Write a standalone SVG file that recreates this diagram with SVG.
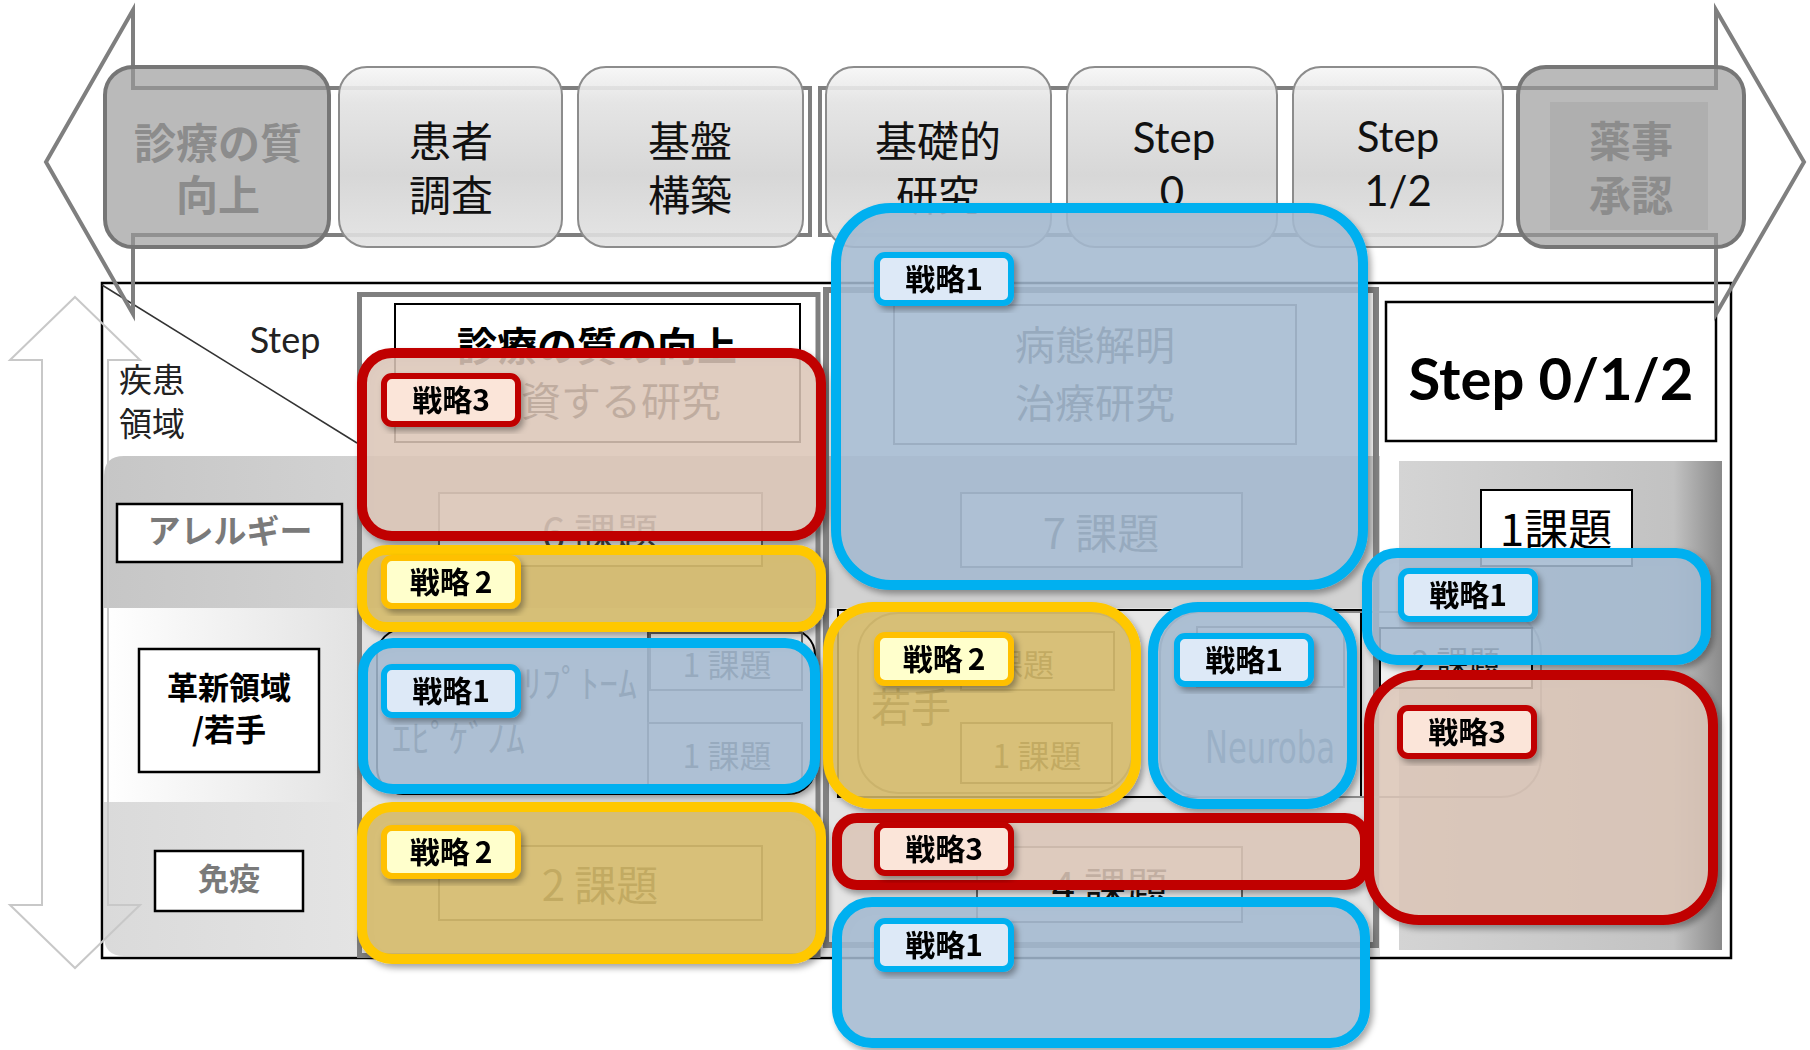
<svg xmlns="http://www.w3.org/2000/svg" width="1810" height="1050" viewBox="0 0 1810 1050">
<defs>
<style>
.jp{font-family:"Noto Sans CJK JP","Noto Sans",sans-serif}
.lat{font-family:Lato,"Noto Sans","Noto Sans CJK JP",sans-serif}
.ob{fill:#a8bed5;fill-opacity:.82;stroke:#00b0f0;stroke-width:10}
.or{fill:#e0cbbc;fill-opacity:.82;stroke:#c00000;stroke-width:10}
.oy{fill:#dbbe6a;fill-opacity:.82;stroke:#ffc800;stroke-width:10}
.lb{fill:#dde9f7;stroke:#00b0f0;stroke-width:6}
.ly{fill:#ffffcc;stroke:#ffc000;stroke-width:6}
.lr{fill:#fbe5d9;stroke:#c00000;stroke-width:6}
.lt{font-family:"Noto Sans CJK JP",sans-serif;font-weight:700;font-size:30px;fill:#000;text-anchor:middle}
.tb{fill:url(#gBox);fill-opacity:.9;stroke:#8c8c8c;stroke-width:2}
.td{fill:#9a9a9a;fill-opacity:.68;stroke:#767676;stroke-width:4}
.tt{font-family:"Noto Sans CJK JP",sans-serif;font-size:42px;text-anchor:middle;fill:#111}
.tg{font-family:"Noto Sans CJK JP",sans-serif;font-size:42px;font-weight:700;text-anchor:middle;fill:#8c8c8c}
.ts{font-family:Lato,"Noto Sans",sans-serif;font-size:42px;text-anchor:middle;fill:#111}
.kb{fill:#f0f0f0;stroke:#666;stroke-width:2}
.kt{font-family:"Noto Sans CJK JP",sans-serif;text-anchor:middle;fill:#444}
.kd{font-family:"Noto Sans CJK JP",sans-serif;text-anchor:middle;fill:#111}
.lab{fill:#fff;stroke:#000;stroke-width:2.5}
</style>
<linearGradient id="gBox" x1="0" y1="0" x2="0" y2="1">
<stop offset="0" stop-color="#f6f6f6"/><stop offset=".2" stop-color="#e2e2e2"/><stop offset=".6" stop-color="#d3d3d3"/><stop offset="1" stop-color="#e2e2e2"/>
</linearGradient>
<linearGradient id="gAl" gradientUnits="userSpaceOnUse" x1="104" y1="0" x2="360" y2="0">
<stop offset="0" stop-color="#c6c6c6"/><stop offset="1" stop-color="#d2d2d2"/>
</linearGradient>
<linearGradient id="gIn" gradientUnits="userSpaceOnUse" x1="104" y1="0" x2="360" y2="0">
<stop offset="0" stop-color="#ffffff"/><stop offset="1" stop-color="#e2e2e2"/>
</linearGradient>
<linearGradient id="gIm" gradientUnits="userSpaceOnUse" x1="104" y1="0" x2="360" y2="0">
<stop offset="0" stop-color="#dadada"/><stop offset="1" stop-color="#e4e4e4"/>
</linearGradient>
<linearGradient id="gRc" x1="0" y1="0" x2="1" y2="0">
<stop offset="0" stop-color="#d4d4d4"/><stop offset=".85" stop-color="#c2c2c2"/><stop offset="1" stop-color="#8a8a8a"/>
</linearGradient>
<filter id="sh" x="-10%" y="-10%" width="125%" height="130%">
<feDropShadow dx="3" dy="4" stdDeviation="3" flood-color="#000" flood-opacity="0.35"/>
</filter>
</defs>

<rect width="1810" height="1050" fill="#fff"/>

<g id="table">
<rect x="102" y="283" width="1629" height="675" fill="#fff" stroke="#000" stroke-width="2.5"/>
<path d="M124,456 H1380 V608 H104 V476 Q104,456 124,456 Z" fill="url(#gAl)"/>
<rect x="104" y="608" width="1276" height="194" fill="url(#gIn)"/>
<path d="M104,802 H1380 V956 H124 Q104,956 104,936 Z" fill="url(#gIm)"/>
<rect x="1399" y="461" width="323" height="489" fill="url(#gRc)"/>
<line x1="102" y1="285" x2="357" y2="443" stroke="#333" stroke-width="1.5"/>
<text class="lat" x="285" y="353" font-size="36" text-anchor="middle" fill="#222">Step</text>
<text class="jp" font-size="33" fill="#222"><tspan x="119" y="392">疾患</tspan><tspan x="119" y="436">領域</tspan></text>
</g>

<g id="row-allergy">
<rect class="lab" x="117" y="504" width="225" height="58"/>
<text class="jp" x="230" y="543" font-size="33" font-weight="700" text-anchor="middle" fill="#7a7a7a">アレルギー</text>
</g>
<g id="row-innovation">
<rect class="lab" x="139" y="649" width="180" height="123"/>
<text class="jp" font-size="31" font-weight="700" text-anchor="middle" fill="#000"><tspan x="229" y="699">革新領域</tspan><tspan x="229" y="741">/若手</tspan></text>
</g>
<g id="row-immune">
<rect class="lab" x="155" y="851" width="148" height="60"/>
<text class="jp" x="229" y="890" font-size="31" font-weight="700" text-anchor="middle" fill="#7a7a7a">免疫</text>
</g>

<g id="col-quality">
<rect x="359.5" y="294.5" width="458.5" height="661" fill="none" stroke="#7f7f7f" stroke-width="5"/>
<rect x="395" y="304" width="405" height="138" fill="#fff" stroke="#000" stroke-width="2"/>
<text class="jp" x="597" y="361" font-size="40" font-weight="700" text-anchor="middle" fill="#000">診療の質の向上</text>
<text class="jp" x="521" y="416" font-size="40" fill="#000">資する研究</text>
<rect class="kb" x="439" y="493" width="323" height="73"/>
<text class="kt" x="600" y="549" font-size="42">6 課題</text>
<rect x="377" y="629" width="438" height="165" rx="26" fill="#e9e9e9" stroke="#000" stroke-width="2"/>
<line x1="648" y1="629" x2="648" y2="794" stroke="#555" stroke-width="2"/>
<rect class="kb" x="650" y="633" width="152" height="57"/>
<text class="kt" x="727" y="677" font-size="32">1 課題</text>
<rect class="kb" x="648" y="723" width="154" height="62"/>
<text class="kt" x="727" y="768" font-size="32">1 課題</text>
<text class="jp" font-size="38" fill="#444"><tspan x="523" y="697">ﾘﾌﾟﾄｰﾑ</tspan><tspan x="392" y="752">ｴﾋﾟｹﾞﾉﾑ</tspan></text>
<rect class="kb" x="439" y="846" width="323" height="74"/>
<text class="kt" x="600" y="901" font-size="42">2 課題</text>
</g>

<g id="col-basic">
<rect x="826" y="290" width="550" height="655" fill="none" stroke="#808080" stroke-width="6"/>
<rect x="894" y="305" width="402" height="139" fill="#fff" stroke="#666" stroke-width="2"/>
<text class="kt" font-size="40"><tspan x="1095" y="360">病態解明</tspan><tspan x="1095" y="418">治療研究</tspan></text>
<rect class="kb" x="961" y="493" width="281" height="74"/>
<text class="kt" x="1101" y="549" font-size="42">7 課題</text>
<rect x="838" y="610" width="523" height="187" fill="#e6e6e6" stroke="#000" stroke-width="2"/>
<rect x="858" y="613" width="274" height="180" rx="40" fill="none" stroke="#888" stroke-width="2"/>
<rect class="kb" x="961" y="632" width="153" height="58"/>
<text class="kt" x="1023" y="676" font-size="31" text-anchor="start">課題</text>
<text class="jp" x="871" y="722" font-size="40" fill="#444">若手</text>
<rect class="kb" x="961" y="723" width="151" height="60"/>
<text class="kt" x="1037" y="768" font-size="32">1 課題</text>
<rect x="1160" y="612" width="381" height="185" rx="40" fill="none" stroke="#888" stroke-width="2"/>
<rect class="kb" x="1197" y="627" width="147" height="60"/>
<rect x="1380" y="628" width="152" height="60" fill="#f0f0f0" stroke="#000" stroke-width="2"/>
<text class="kd" x="1456" y="674" font-size="32">2 課題</text>
<text x="1205" y="763" font-family="'DejaVu Sans Condensed','Liberation Sans',sans-serif" font-size="44" fill="#5a6e84" textLength="130" lengthAdjust="spacingAndGlyphs">Neuroba</text>
<rect class="kb" x="977" y="847" width="265" height="75" stroke="#555"/>
<text class="kd" x="1110" y="903" font-size="42">4 課題</text>
</g>

<g id="col-step012">
<rect x="1386" y="302" width="330" height="139" fill="#fff" stroke="#000" stroke-width="2.5"/>
<text class="lat" x="1551" y="400" font-size="58" font-weight="700" text-anchor="middle" fill="#000">Step 0/1/2</text>
<rect x="1481" y="490" width="151" height="76" fill="#fff" stroke="#000" stroke-width="2"/>
<text class="jp" x="1556" y="546" font-size="44" text-anchor="middle" fill="#000">1課題</text>
</g>

<g id="arrows">
<polygon points="810,88 133,88 133,10 46,162 133,314 133,235 810,235" fill="none" stroke="#7f7f7f" stroke-width="4"/>
<polygon points="820,88 1716,88 1716,10 1804,162 1716,314 1716,235 820,235" fill="none" stroke="#7f7f7f" stroke-width="4"/>
<polygon points="75,297 140,360 108,360 108,905 140,905 75,968 10,905 42,905 42,360 10,360" fill="none" stroke="#c8c8c8" stroke-width="2"/>
</g>

<g id="step-quality">
<rect class="td" x="105" y="67" width="224" height="180" rx="28"/>
<text class="tg"><tspan x="218" y="159">診療の質</tspan><tspan x="218" y="211">向上</tspan></text>
</g>
<g id="step-survey">
<rect class="tb" x="339" y="67" width="223" height="180" rx="28"/>
<text class="tt"><tspan x="451" y="157">患者</tspan><tspan x="451" y="211">調査</tspan></text>
</g>
<g id="step-infra">
<rect class="tb" x="578" y="67" width="225" height="180" rx="28"/>
<text class="tt"><tspan x="690" y="157">基盤</tspan><tspan x="690" y="211">構築</tspan></text>
</g>
<g id="step-basic">
<rect class="tb" x="826" y="67" width="225" height="180" rx="28"/>
<text class="tt"><tspan x="938" y="157">基礎的</tspan><tspan x="938" y="211">研究</tspan></text>
</g>
<g id="step-0">
<rect class="tb" x="1067" y="67" width="210" height="180" rx="28"/>
<text class="ts"><tspan x="1174" y="153">Step</tspan><tspan x="1172" y="207">0</tspan></text>
</g>
<g id="step-12">
<rect class="tb" x="1293" y="67" width="210" height="180" rx="28"/>
<text class="ts"><tspan x="1398" y="152">Step</tspan><tspan x="1398" y="206">1/2</tspan></text>
</g>
<g id="step-approval">
<rect class="td" x="1518" y="67" width="226" height="180" rx="28"/>
<rect x="1550" y="102" width="158" height="128" fill="#a0a0a0" fill-opacity=".4"/>
<text class="tg"><tspan x="1631" y="157">薬事</tspan><tspan x="1631" y="211">承認</tspan></text>
</g>

<g id="strategies" filter="url(#sh)">
<rect class="or" x="362" y="353" width="459" height="183" rx="30"/>
<rect class="oy" x="362" y="550" width="459" height="77" rx="25"/>
<rect class="ob" x="363" y="643" width="452" height="146" rx="30"/>
<rect class="oy" x="362" y="807" width="459" height="152" rx="30"/>
<rect class="ob" x="836" y="208" width="527" height="377" rx="55"/>
<rect class="oy" x="828" y="607" width="308" height="197" rx="45"/>
<rect class="ob" x="1153" y="607" width="199" height="197" rx="45"/>
<rect class="ob" x="1367" y="553" width="339" height="107" rx="30"/>
<rect class="or" x="1369" y="675" width="344" height="245" rx="50"/>
<rect class="or" x="837" y="818" width="528" height="67" rx="20"/>
<rect class="ob" x="837" y="902" width="528" height="141" rx="35"/>
</g>

<g id="labels">
<g id="lbl-q3" filter="url(#sh)"><rect class="lr" x="384" y="376" width="134" height="48" rx="8"/><text class="lt" x="451" y="411">戦略3</text></g>
<g id="lbl-q2a" filter="url(#sh)"><rect class="ly" x="384" y="558" width="134" height="48" rx="8"/><text class="lt" x="451" y="593">戦略<tspan dx="5">2</tspan></text></g>
<g id="lbl-q1" filter="url(#sh)"><rect class="lb" x="384" y="667" width="134" height="48" rx="8"/><text class="lt" x="451" y="702">戦略1</text></g>
<g id="lbl-q2b" filter="url(#sh)"><rect class="ly" x="384" y="828" width="134" height="48" rx="8"/><text class="lt" x="451" y="863">戦略<tspan dx="5">2</tspan></text></g>
<g id="lbl-b1" filter="url(#sh)"><rect class="lb" x="877" y="255" width="134" height="48" rx="8"/><text class="lt" x="944" y="290">戦略1</text></g>
<g id="lbl-m2" filter="url(#sh)"><rect class="ly" x="877" y="635" width="134" height="48" rx="8"/><text class="lt" x="944" y="670">戦略<tspan dx="5">2</tspan></text></g>
<g id="lbl-n1" filter="url(#sh)"><rect class="lb" x="1177" y="636" width="134" height="48" rx="8"/><text class="lt" x="1244" y="671">戦略1</text></g>
<g id="lbl-m3" filter="url(#sh)"><rect class="lr" x="877" y="825" width="134" height="48" rx="8"/><text class="lt" x="944" y="860">戦略3</text></g>
<g id="lbl-m1" filter="url(#sh)"><rect class="lb" x="877" y="921" width="134" height="48" rx="8"/><text class="lt" x="944" y="956">戦略1</text></g>
<g id="lbl-r1" filter="url(#sh)"><rect class="lb" x="1401" y="571" width="134" height="48" rx="8"/><text class="lt" x="1468" y="606">戦略1</text></g>
<g id="lbl-r3" filter="url(#sh)"><rect class="lr" x="1400" y="708" width="134" height="48" rx="8"/><text class="lt" x="1467" y="743">戦略3</text></g>
</g>
</svg>
